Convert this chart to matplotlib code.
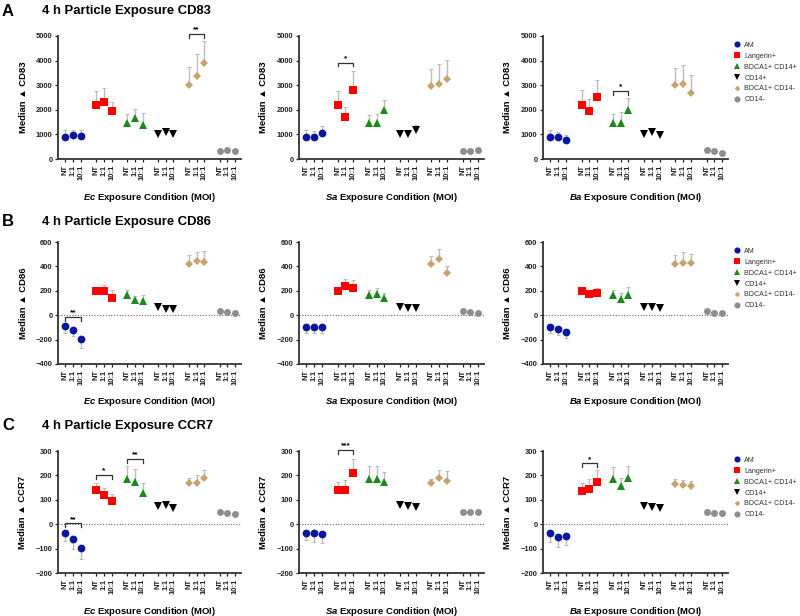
import matplotlib
matplotlib.use("Agg")
import matplotlib.pyplot as plt
from matplotlib.lines import Line2D
import numpy as np

plt.rcParams['font.family'] = ['Liberation Sans', 'DejaVu Sans']
plt.rcParams['mathtext.fontset'] = 'custom'
plt.rcParams['mathtext.it'] = 'Liberation Sans:italic:bold'
plt.rcParams['mathtext.rm'] = 'Liberation Sans:bold'

cells = ['AM', 'Langerin+', 'BDCA1+ CD14+', 'CD14+', 'BDCA1+ CD14-', 'CD14-']
colors = ['#0b159e', '#ff0000', '#1b8a1b', '#000000', '#c6a470', '#8e8e8e']
markers = ['o', 's', '^', 'v', 'D', 'o']
conditions = ['NT', '1:1', '10:1']
bacteria = ['Ec', 'Sa', 'Ba']

# CD83 (row A): means and error magnitudes, 3 conditions x 6 cell types
cd83_ec = [880, 970, 940, 2200, 2320, 1950, 1475, 1650, 1390, 1000, 1080, 1010, 3020, 3390, 3910, 340, 380, 340]
cd83_ec_err = [300, 200, 230, 570, 550, 370, 340, 370, 470, 60, 150, 90, 700, 890, 870, 60, 40, 40]
cd83_sa = [890, 905, 1055, 2200, 1715, 2785, 1475, 1475, 1975, 1000, 1015, 1190, 2985, 3030, 3245, 340, 340, 365]
cd83_sa_err = [300, 215, 270, 555, 395, 810, 325, 365, 405, 95, 145, 190, 675, 835, 785, 30, 30, 30]
cd83_ba = [890, 890, 757, 2215, 1945, 2515, 1475, 1445, 2000, 1025, 1095, 975, 3015, 3055, 2690, 350, 340, 245]
cd83_ba_err = [300, 205, 230, 570, 500, 700, 350, 475, 500, 95, 160, 135, 675, 755, 715, 30, 30, 30]

# CD86 (row B)
cd86_ec = [-90, -120, -196, 199, 202, 144, 169, 123, 120, 65, 54, 52, 422, 441, 433, 33, 27, 14]
cd86_ec_err = [55, 50, 76, 27, 48, 60, 41, 32, 49, 17, 8, 8, 68, 79, 90, 19, 17, 13]
cd86_sa = [-93, -93, -93, 199, 243, 224, 169, 172, 137, 68, 60, 57, 423, 459, 350, 33, 27, 16]
cd86_sa_err = [52, 50, 50, 33, 57, 68, 36, 52, 41, 11, 14, 20, 66, 87, 52, 8, 8, 6]
cd86_ba = [-93, -112, -134, 199, 172, 180, 164, 131, 169, 68, 71, 55, 423, 429, 429, 33, 22, 16]
cd86_ba_err = [52, 52, 55, 28, 25, 39, 46, 52, 61, 14, 16, 13, 67, 90, 71, 8, 6, 6]

# CCR7 (row C)
ccr7_ec = [-38, -59, -99, 141, 118, 97, 184, 173, 129, 74, 77, 68, 167, 167, 189, 51, 44, 41]
ccr7_ec_err = [30, 41, 42, 29, 31, 25, 56, 53, 38, 7, 8, 10, 21, 34, 34, 9, 11, 11]
ccr7_sa = [-37, -36, -42, 142, 142, 208, 187, 186, 172, 78, 75, 70, 168, 190, 178, 52, 48, 48]
ccr7_sa_err = [29, 36, 37, 30, 41, 61, 52, 52, 40, 7, 6, 6, 19, 31, 39, 5, 5, 5]
ccr7_ba = [-38, -53, -47, 138, 145, 174, 184, 155, 189, 74, 70, 66, 166, 162, 158, 49, 44, 44]
ccr7_ba_err = [33, 39, 37, 32, 39, 48, 52, 33, 49, 7, 5, 5, 18, 18, 19, 5, 5, 5]

markers_names = ['CD83', 'CD86', 'CCR7']
means = [[cd83_ec, cd83_sa, cd83_ba], [cd86_ec, cd86_sa, cd86_ba], [ccr7_ec, ccr7_sa, ccr7_ba]]
errs = [[cd83_ec_err, cd83_sa_err, cd83_ba_err], [cd86_ec_err, cd86_sa_err, cd86_ba_err],
        [ccr7_ec_err, ccr7_sa_err, ccr7_ba_err]]
ylims = [(0, 5000), (-400, 600), (-200, 300)]
ysteps = [1000, 200, 100]

# significance brackets: (row, col, cell group, y, label)
brackets = [(0, 0, 4, 5080, '**'), (0, 1, 1, 3920, '*'), (0, 2, 2, 2770, '*'),
            (1, 0, 0, -15, '**'),
            (2, 0, 0, 3, '**'), (2, 0, 1, 201, '*'), (2, 0, 2, 267, '**'),
            (2, 1, 1, 303, '***'), (2, 2, 1, 249, '*')]

W, H = 800, 616
fig = plt.figure(figsize=(W / 100, H / 100), dpi=100)

row_px = [(36, 159), (242, 364), (451, 573)]
col_px = [(58, 241), (299, 484), (543, 728)]
title_y = [11, 222, 426]
letters = ['A', 'B', 'C']

xpos = np.array([g * 4 + i for g in range(6) for i in range(3)])
ticklabels = conditions * 6


def msize(mk):
    return {'o': 5.6, 's': 5.4, '^': 5.8, 'v': 5.8, 'D': 4.0}[mk]


axes = {}
for r in range(3):
    top, bot = row_px[r]
    for c in range(3):
        x0, x1 = col_px[c]
        ax = fig.add_axes([x0 / W, 1 - bot / H, (x1 - x0) / W, (bot - top) / H])
        axes[(r, c)] = ax
        m = np.array(means[r][c], dtype=float)
        e = np.array(errs[r][c], dtype=float)
        lo = np.where(m < 0, e, 0)
        hi = np.where(m >= 0, e, 0)
        for g in range(6):
            sl = slice(g * 3, g * 3 + 3)
            ax.errorbar(xpos[sl], m[sl], yerr=[lo[sl], hi[sl]], fmt='none',
                        ecolor='#bdbdbd', elinewidth=1, capsize=1.2, capthick=0.8, zorder=2)
            ms = msize(markers[g]) - (0.6 if g == 5 else 0)
            ax.plot(xpos[sl], m[sl], linestyle='none', marker=markers[g], color=colors[g],
                    markersize=ms, markeredgewidth=0, zorder=3)
        ax.set_xlim(-0.95, 22.75)
        ax.set_ylim(*ylims[r])
        ax.set_yticks(np.arange(ylims[r][0], ylims[r][1] + 1, ysteps[r]))
        ax.set_xticks(xpos)
        ax.set_xticklabels(ticklabels, rotation=90, fontsize=5.6, fontweight='bold')
        for lab in ax.get_yticklabels():
            lab.set_fontsize(5.4)
            lab.set_fontweight('bold')
        ax.tick_params(length=2.5, width=0.9, pad=1.5, colors='#222222')
        for s in ['top', 'right']:
            ax.spines[s].set_visible(False)
        for s in ['left', 'bottom']:
            ax.spines[s].set_linewidth(1.3)
            ax.spines[s].set_color('#333333')
        if ylims[r][0] < 0:
            ax.axhline(0, color='#666666', linestyle=(0, (1, 1.5)), linewidth=0.8, zorder=1)

        fig.text(((x0 + x1) / 2) / W, 1 - (bot + 38) / H,
                 r'$%s$ Exposure Condition (MOI)' % bacteria[c],
                 ha='center', va='center', fontsize=6.8, fontweight='bold')
        fig.text((x0 - 35) / W, 1 - ((top + bot) / 2) / H,
                 'Median \u25b2 ' + markers_names[r], rotation=90,
                 ha='center', va='center', fontsize=6.8, fontweight='bold')

    fig.text(2 / W, 1 - title_y[r] / H, letters[r], ha='left', va='center',
             fontsize=12, fontweight='bold')
    fig.text(42 / W, 1 - title_y[r] / H, '4 h Particle Exposure ' + markers_names[r],
             ha='left', va='center', fontsize=9.4, fontweight='bold')

    handles = [Line2D([], [], linestyle='none', marker=markers[g], color=colors[g],
                      markersize=msize(markers[g]) - 1.2, markeredgewidth=0)
               for g in range(6)]
    axes[(r, 2)].legend(handles, cells, loc='upper left',
                        bbox_to_anchor=(731 / W, 1 - (top + 3) / H),
                        bbox_transform=fig.transFigure, frameon=False, fontsize=5.1,
                        handlelength=1.0, handletextpad=0.5, labelspacing=0.55,
                        borderaxespad=0, labelcolor='#333333')

for r, c, g, y, lab in brackets:
    ax = axes[(r, c)]
    span = ylims[r][1] - ylims[r][0]
    tick = span * 0.03
    xa, xb = g * 4, g * 4 + 2
    ax.plot([xa, xa, xb, xb], [y - tick, y, y, y - tick], color='#333333',
            linewidth=0.9, clip_on=False, zorder=4)
    ax.text((xa + xb) / 2, y + span * 0.005, lab, ha='center', va='bottom',
            fontsize=6, fontweight='bold', clip_on=False)

fig.savefig('out.png', dpi=100)
